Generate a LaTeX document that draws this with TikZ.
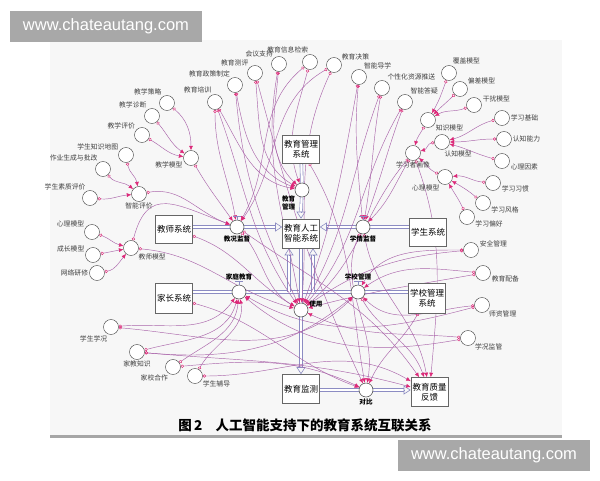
\documentclass[tikz,border=0pt]{standalone}
\usepackage{fontspec}
\setmainfont{Noto Sans CJK SC}
\newfontfamily\wmfont{Liberation Sans}
\usepackage{xcolor}
\usetikzlibrary{positioning,arrows.meta,calc}
\pgfdeclarelayer{background}
\pgfsetlayers{background,main}
\definecolor{pipecol}{RGB}{140,140,195}
\definecolor{linkcol}{RGB}{170,100,170}
\definecolor{tipcol}{RGB}{220,40,120}
\definecolor{wmgray}{RGB}{168,168,168}

\begin{document}
\begin{tikzpicture}[x=1pt, y=-1pt,
  aux/.style={circle, draw=black!70, line width=0.45pt, minimum size=15pt, inner sep=0pt, fill=white},
  valve/.style={circle, draw=black!75, line width=0.5pt, minimum size=14pt, inner sep=0pt, fill=white},
  lbl/.style={font=\fontsize{6.8}{8}\selectfont, text=black!75, inner sep=1pt},
  vlbl/.style={font=\fontsize{6.6}{7.4}\selectfont\bfseries, inner sep=1pt, align=center},
  sysbox/.style={draw=black!60, line width=0.6pt, fill=white, align=center,
    font=\fontsize{8.5}{10}\selectfont, minimum width=37pt, minimum height=28pt, inner sep=1pt},
  pipe/.style={draw=pipecol, line width=0.6pt, double=white, double distance=2.2pt},
  pipetip/.style={draw=pipecol, line width=0.6pt, -{Triangle[open, length=7pt, width=9pt]}},
  link/.style={draw=linkcol, line width=0.45pt,
    {Circle[open, length=3.2pt, width=3.2pt, color=tipcol]}-{Latex[length=4.5pt, width=4pt, color=tipcol]}},
  wm/.style={fill=wmgray, text=white, font=\wmfont\fontsize{16.5}{18}\selectfont,
    minimum width=192pt, minimum height=31pt, inner sep=0pt}
]
\useasboundingbox (0,0) rectangle (600,480);

% 1. System boxes
\node[sysbox] (bgl) at (301,149) {教育管理\\系统};
\node[sysbox, minimum height=29pt] (bai) at (301,233.5) {教育人工\\智能系统};
\node[sysbox] (bjs) at (174,229) {教师系统};
\node[sysbox, minimum height=30pt] (bjz) at (174,298) {家长系统};
\node[sysbox] (bxs) at (428,232) {学生系统};
\node[sysbox, minimum height=30pt] (bxg) at (427,298) {学校管理\\系统};
\node[sysbox, minimum height=29pt] (bjc) at (301,389) {教育监测};
\node[sysbox, minimum height=29pt] (bfk) at (429.5,392) {教育质量\\反馈};

% 2. Flow valves
\node[valve, label={[vlbl]220:教育\\管理}] (vgl) at (302,190) {};
\node[valve, label={[vlbl]below:教况监督}] (vjk) at (237,227) {};
\node[valve, label={[vlbl]below:学情监督}] (vxq) at (363,227) {};
\node[valve, label={[vlbl, label distance=3pt]above:家庭教育}] (vjt) at (239,292) {};
\node[valve, label={[vlbl, label distance=3pt]above:学校管理}] (vxx) at (358,292) {};
\node[valve, label={[vlbl]10:使用}] (vsy) at (301,310) {};
\node[valve, label={[vlbl]below:对比}] (vdb) at (366,390) {};
\foreach \v in {vjk,vxq,vjt,vxx}
  \draw[pipecol, line width=0.6pt] ($(\v.north)+(-4,-3)$) -- ($(\v.north)+(4,-3)$)
    ($(\v.north)+(0,-3)$) -- (\v.north);

% 3. Auxiliary variables
\foreach \n/\x/\y/\a/\txt in {
  jxcl/167/103/125/教学策略, jxzd/152/116/125/教学诊断, jxpj/142/135/140/教学评价,
  zsdt/126/155/150/学生知识地图, zypg/103/169/125/作业生成与批改, szpj/90/198/115/学生素质评价,
  znpj/139/194/-90/智能评价, jxmx/191/158/200/教学模型,
  xlml/92/232/150/心理模型, czmx/93/255/165/成长模型, wlyx/97/273/180/网络研修, jsmx/131/248/325/教师模型,
  jypx/215/102/110/教育培训, zczd/235/85/120/教育政策制定, jycp/255/73/135/教育测评,
  hyzc/279/64/130/会议支持, xxjs/310/62/95/教育信息检索, jyjc/334/65/30/教育决策,
  zndx/359/77/60/智能导学, gxtx/382/88/55/个性化资源推送, zndy/405/102/55/智能答疑,
  fgmx/449/73/70/覆盖模型, pcmx/460/89/30/偏差模型, grmx/474/105/10/干扰模型,
  zsmx/428/120/330/知识模型, xxjc/502/118/0/学习基础, rznl/504/139/0/认知能力,
  xlys/502/161/350/心理因素, rzmx/442/142/-80/认知模型, hx/413/153/-90/学习者画像,
  xlmr/445/177/235/心理模型, xxxg/493/183/350/学习习惯, xxfg/483/203/340/学习风格,
  xxph/467/217/340/学习偏好, aqgl/471/250/10/安全管理, jypb/483/273/350/教育配备,
  szgl/482/305/320/师资管理, xkjg/468/338/320/学况监管,
  xsxk/111/327/250/学生学况, jjzs/137/352/270/家教知识, jxhz/173/367/240/家校合作, xsfd/195/376/330/学生辅导}
  \node[aux, label={[lbl]\a:\txt}] (\n) at (\x,\y) {};

% 4. Caption and watermarks
\node[font=\fontsize{13.5}{15}\selectfont\bfseries] (cap) at (305,425) {图\,2\quad 人工智能支持下的教育系统互联关系};
\node[wm] (wmtop) at (106,26) {www.chateautang.com};
\node[wm] (wmbot) at (494,455) {www.chateautang.com};

\begin{pgfonlayer}{background}
% panel
\fill[black!3] (50,40) rectangle (562,437);
\fill[black!35] (50,435) rectangle (562,438);

% 5. Pipes
\coordinate (tgl) at ($(bai.north)+(0,-7)$);
\coordinate (tjk) at ($(bai.west |- vjk)+(-7,0)$);
\coordinate (txq) at ($(bai.east |- vxq)+(7,0)$);
\coordinate (cjt) at (289,292);
\coordinate (cxx) at (313,292);
\coordinate (tjt) at ($(bai.south -| cjt)+(0,7)$);
\coordinate (txx) at ($(bai.south -| cxx)+(0,7)$);
\coordinate (tjc) at ($(bjc.north)+(0,-7)$);
\coordinate (tfk) at ($(bfk.west |- vdb)+(-7,0)$);
\draw[pipe] (bgl) -- (vgl) (vgl) -- (tgl);
\draw[pipe] (bjs.east |- vjk) -- (vjk) (vjk) -- (tjk);
\draw[pipe] (bxs.west |- vxq) -- (vxq) (vxq) -- (txq);
\draw[pipe] (bjz.east |- vjt) -- (vjt) (vjt) -- (vxx) (vxx) -- (bxg.west |- vxx);
\draw[pipe] (cjt) -- (tjt) (cxx) -- (txx);
\draw[pipe] (bai) -- (vsy) (vsy) -- (tjc);
\draw[pipe] (bjc.east |- vdb) -- (vdb) (vdb) -- (tfk);
\draw[pipetip] (tgl) -- (bai.north);
\draw[pipetip] (tjk) -- (bai.west |- vjk);
\draw[pipetip] (txq) -- (bai.east |- vxq);
\draw[pipetip] (tjt) -- (bai.south -| cjt);
\draw[pipetip] (txx) -- (bai.south -| cxx);
\draw[pipetip] (tjc) -- (bjc.north);
\draw[pipetip] (tfk) -- (bfk.west |- vdb);

% 6. Links -- teacher side
\foreach \src/\dst/\o/\i in {jxcl/jxmx/-40/90, jxzd/jxmx/-50/145, jxpj/jxmx/-30/170,
  zsdt/znpj/-80/100, zypg/znpj/-50/140, szpj/znpj/-5/185,
  znpj/vjk/10/160, jxmx/vjk/-60/125,
  xlml/jsmx/-20/165, czmx/jsmx/10/190, wlyx/jsmx/10/230,
  jsmx/vsy/-5/165, bjs/vsy/-20/150, bjz/vdb/-15/160}
  \draw[link] (\src) to[out=\o, in=\i] (\dst);
\draw[link] (jsmx) to[out=75, in=160, looseness=1.5] (vjk);

% links -- management and learning services
\foreach \src/\dst/\o/\i in {jypx/vjk/-90/100, jypx/vsy/-70/125, jypx/vgl/-60/170,
  zczd/vgl/-80/160, zczd/vsy/-85/115, jycp/vgl/-85/150, jycp/vdb/-75/115,
  hyzc/vgl/-95/135, hyzc/vsy/-100/100, xxjs/vgl/-105/110, xxjs/vjk/-140/60,
  jyjc/vjk/-150/55, jyjc/vsy/-115/85,
  zndx/vxq/-95/95, zndx/vsy/-100/70, gxtx/vxq/-100/80, gxtx/vsy/-110/60,
  zndy/vxq/-110/70, zndy/vsy/-120/50, hx/vxq/-120/45, hx/vsy/-130/40, hx/bfk/-70/85}
  \draw[link] (\src) to[out=\o, in=\i] (\dst);

% links -- learner portrait
\foreach \src/\dst/\o/\i in {fgmx/zsmx/-110/60, pcmx/zsmx/-135/45, grmx/zsmx/-160/30,
  xxjc/rzmx/-165/15, rznl/rzmx/180/0, xlys/rzmx/165/-15,
  xxxg/xlmr/175/5, xxfg/xlmr/140/-30, xxph/xlmr/115/-60,
  zsmx/hx/-120/75, rzmx/hx/185/15, xlmr/hx/155/-40}
  \draw[link] (\src) to[out=\o, in=\i] (\dst);

% links -- school and family
\foreach \src/\dst/\o/\i in {aqgl/vxx/180/60, jypb/vxx/175/35, aqgl/vsy/185/35, jypb/vsy/190/15,
  szgl/vjt/195/-30, szgl/vxx/185/-45, xkjg/vsy/175/-25, xkjg/vjt/190/-40,
  bxg/vdb/-120/65, vxx/bfk/-60/110,
  xsxk/vjt/5/-125, jjzs/vjt/15/-105, jxhz/vjt/35/-95, xsfd/vjt/60/-80,
  xsxk/vxx/-5/-135, jjzs/vxx/-5/-140, jjzs/bfk/-5/165, jxhz/vdb/5/155, xsfd/bfk/0/150,
  bgl/vdb/-60/100, vjk/bfk/-35/125, vxq/vdb/-115/80, vxq/bfk/-80/100, vjk/vsy/-50/150}
  \draw[link] (\src) to[out=\o, in=\i] (\dst);
\end{pgfonlayer}
\end{tikzpicture}
\end{document}
